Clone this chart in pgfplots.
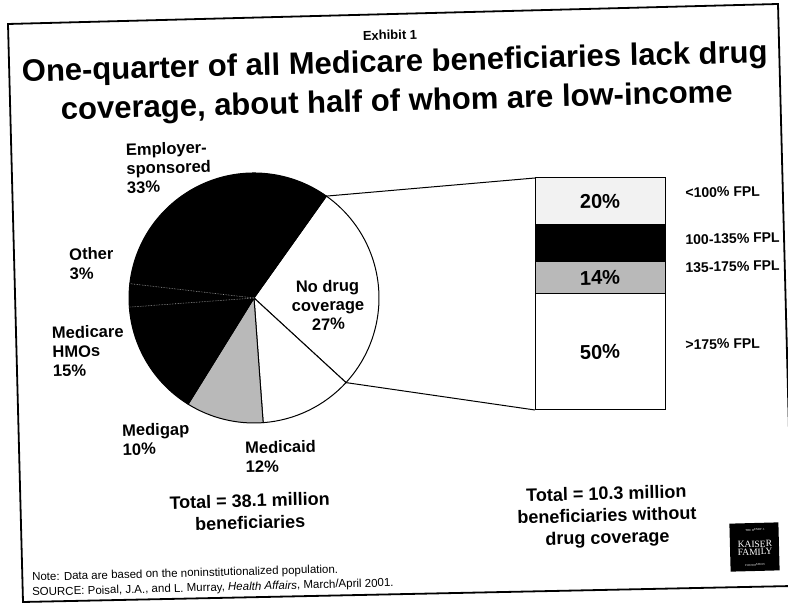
\documentclass[border=0pt]{standalone}
\usepackage{fontspec}
\setmainfont{Liberation Sans}
\newfontfamily\serifkff{Liberation Serif}
\usepackage{pgfplots}
\usepackage{pgfplotstable}
\pgfplotsset{compat=1.18}

% pie shares (clockwise from the "No drug coverage" wedge)
\pgfplotstableread{
share shade
27 white
12 white
10 gray!55
15 black
3 black
33 black
}\pietable

\newcommand\lab{\fontsize{16.5}{19}\selectfont\bfseries}
\newcommand\tot{\fontsize{18}{22}\selectfont\bfseries}
\newcommand\fpl{\fontsize{14}{16}\selectfont\bfseries}
\newcommand\pct{\fontsize{20}{22}\selectfont\bfseries}

\begin{document}
\begin{tikzpicture}[x=1pt,y=1pt]
\useasboundingbox (0,0) rectangle (788,604);
\fill[white] (0,0) rectangle (788,604);
% scanned frame (slightly rotated)
\draw[line width=1.8pt] (8,580) -- (778,600) -- (793,18) -- (23,2) -- cycle;

% ---------- pie ----------
\begin{axis}[at={(129pt,181pt)}, anchor=south west, scale only axis,
  width=250pt, height=250pt, xmin=-1, xmax=1, ymin=-1, ymax=1,
  hide axis, clip=false]
\pgfmathsetmacro{\cur}{54.6}
\pgfplotsforeachungrouped \i in {0,...,5}{%
  \pgfplotstablegetelem{\i}{share}\of\pietable \let\v\pgfplotsretval
  \pgfplotstablegetelem{\i}{shade}\of\pietable \let\c\pgfplotsretval
  \pgfmathsetmacro{\nxt}{\cur-3.6*\v}%
  \pgfmathsetmacro{\cx}{cos(\cur)}%
  \pgfmathsetmacro{\sy}{sin(\cur)}%
  \edef\temp{\noexpand\filldraw[fill=\c, draw=black, line width=1pt]
    (axis cs:0,0) -- (axis cs:\cx,\sy) arc[start angle=\cur, end angle=\nxt, radius=125pt] -- cycle;}%
  \temp
  \global\let\cur\nxt
}
\draw[gray!70, densely dotted, line width=0.6pt] (axis cs:0,0) -- (axis cs:-0.9973,-0.0732);
\draw[gray!70, densely dotted, line width=0.6pt] (axis cs:0,0) -- (axis cs:-0.9934,0.1149);
\coordinate (ptop) at (axis cs:0.5793,0.8151);
\coordinate (pbot) at (axis cs:0.7361,-0.6769);
\end{axis}

% ---------- stacked bar ----------
\begin{axis}[at={(535pt,194pt)}, anchor=south west, scale only axis,
  width=130pt, height=232pt, xmin=-0.5, xmax=0.5, ymin=0, ymax=100,
  hide axis, clip=false, ybar stacked, bar width=130pt]
\addplot[fill=white, draw=black, line width=1pt] coordinates {(0,50)};
\addplot[fill=gray!55, draw=black, line width=1pt] coordinates {(0,14)};
\addplot[fill=black, draw=black, line width=1pt] coordinates {(0,16)};
\addplot[fill=gray!10, draw=black, line width=1pt] coordinates {(0,20)};
\coordinate (s50) at (axis cs:0,25);
\coordinate (s14) at (axis cs:0,57);
\coordinate (s20) at (axis cs:0,90);
\coordinate (l1) at ([xshift=17pt]axis cs:0.5,93.5);
\coordinate (l2) at ([xshift=17pt]axis cs:0.5,73.3);
\coordinate (l3) at ([xshift=17pt]axis cs:0.5,61.2);
\coordinate (l4) at ([xshift=17pt]axis cs:0.5,28);
\coordinate (btop) at (axis cs:-0.5,100);
\coordinate (bbot) at (axis cs:-0.5,0);
\end{axis}
\node[font=\pct, rotate=1.5] at (s50) {50\%};
\node[font=\pct, rotate=1.5] at (s14) {14\%};
\node[font=\pct, rotate=1.5] at (s20) {20\%};
\node[font=\fpl, anchor=west, rotate=1.5] at (l1) {<100\% FPL};
\node[font=\fpl, anchor=west, rotate=1.5] at (l2) {100-135\% FPL};
\node[font=\fpl, anchor=west, rotate=1.5] at (l3) {135-175\% FPL};
\node[font=\fpl, anchor=west, rotate=1.5] at (l4) {>175\% FPL};

% connectors
\draw[line width=1pt] (ptop) -- (btop);
\draw[line width=1pt] (pbot) -- (bbot);

% ---------- titles ----------
\node[font=\fontsize{13}{15}\selectfont\bfseries, rotate=1.5, inner sep=1pt] at (390,569) {Exhibit 1};
\node[font=\fontsize{31}{35}\selectfont\bfseries, anchor=base, rotate=1.5, inner sep=1pt] at (395,532) {One-quarter of all Medicare beneficiaries lack drug};
\node[font=\fontsize{31}{35}\selectfont\bfseries, anchor=base, rotate=1.5, inner sep=1pt] at (397,493) {coverage, about half of whom are low-income};

% ---------- pie labels ----------
\node[font=\lab, align=left, anchor=west, rotate=1.5] at (123,435.5) {Employer-\\sponsored\\33\%};
\node[font=\lab, align=left, anchor=west, rotate=1.5] at (66,340) {Other\\3\%};
\node[font=\lab, align=left, anchor=west, rotate=1.5] at (49,252) {Medicare\\HMOs\\15\%};
\node[font=\lab, align=left, anchor=west, rotate=1.5] at (119,164) {Medigap\\10\%};
\node[font=\lab, align=left, anchor=west, rotate=1.5] at (242,146.5) {Medicaid\\12\%};
\node[font=\lab, align=center, rotate=1.5] at (328,299) {No drug\\coverage\\27\%};

% ---------- totals ----------
\node[font=\tot, align=center, rotate=1.5] at (250,92.5) {Total = 38.1 million\\beneficiaries};
\node[font=\tot, align=center, rotate=1.5] at (607,87) {Total = 10.3 million\\beneficiaries without\\drug coverage};

% ---------- notes ----------
\node[font=\fontsize{11.5}{15}\selectfont, anchor=west, rotate=1.5, inner sep=1pt] at (31,26) {Note: Data are based on the noninstitutionalized population.};
\node[font=\fontsize{11.5}{15}\selectfont, anchor=west, rotate=1.5, inner sep=1pt] at (31,11) {SOURCE: Poisal, J.A., and L. Murray, \textit{Health Affairs}, March/April 2001.};

% ---------- logo ----------
\fill[black, rotate around={1.5:(755,57)}] (730,33) rectangle (779,81);
\node[white, font=\serifkff\fontsize{3}{3}\selectfont, rotate=1.5, inner sep=0pt] at (755,74) {THE HENRY J.};
\node[white, font=\serifkff\fontsize{9.5}{9}\selectfont, align=center, rotate=1.5, inner sep=0pt] at (755,56) {KAISER\\[-1pt]FAMILY};
\node[white, font=\serifkff\fontsize{3}{3}\selectfont, rotate=1.5, inner sep=0pt] at (755,39) {FOUNDATION};
\end{tikzpicture}
\end{document}
